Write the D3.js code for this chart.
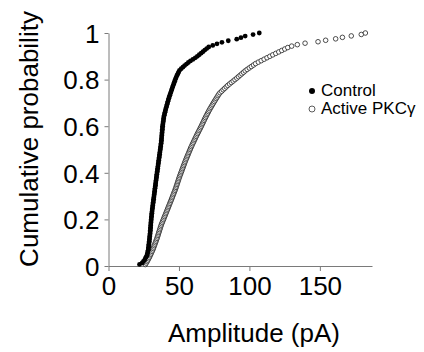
<!DOCTYPE html>
<html>
<head>
<meta charset="utf-8">
<script src="https://cdn.jsdelivr.net/npm/d3@7"></script>
<style>
  body { margin: 0; background: #fff; }
  svg { display: block; }
  text { font-family: "Liberation Sans", Arial, Helvetica, sans-serif; fill: #000; }
</style>
</head>
<body>
<div id="chart"></div>
<script>
// series labels and ticks
const seriesNames = ['Control', 'Active PKC\u03b3'];
const xTicks = [0, 50, 100, 150];
const yTicks = [0, 0.2, 0.4, 0.6, 0.8, 1];

// sorted event amplitudes (pA)
const controlAmps = [
  22.0, 23.9, 24.8, 25.7, 26.2, 26.85, 27.36, 27.6, 27.84, 28.08,
  28.27, 28.4, 28.53, 28.67, 28.8, 28.92, 29.03, 29.15, 29.27, 29.38,
  29.5, 29.59, 29.68, 29.77, 29.86, 29.95, 30.03, 30.12, 30.21, 30.3,
  30.42, 30.53, 30.65, 30.77, 30.88, 31.0, 31.14, 31.29, 31.43, 31.58,
  31.72, 31.87, 32.01, 32.16, 32.3, 32.44, 32.58, 32.73, 32.87, 33.01,
  33.15, 33.29, 33.43, 33.58, 33.72, 33.86, 34.0, 34.15, 34.3, 34.46,
  34.61, 34.76, 34.91, 35.07, 35.22, 35.37, 35.52, 35.68, 35.83, 35.98,
  36.13, 36.28, 36.43, 36.58, 36.73, 36.88, 37.03, 37.18, 37.33, 37.45,
  37.54, 37.64, 37.73, 37.83, 37.92, 38.02, 38.11, 38.21, 38.3, 38.4,
  38.55, 38.7, 38.85, 39.0, 39.15, 39.3, 39.57, 39.83, 40.1, 40.37,
  40.65, 40.96, 41.27, 41.57, 41.88, 42.19, 42.5, 42.8, 43.17, 43.55,
  43.92, 44.29, 44.67, 45.04, 45.41, 45.8, 46.2, 46.6, 47.0, 47.4,
  47.8, 48.27, 48.8, 49.33, 49.87, 50.4, 51.6, 52.8, 54.0, 55.34,
  56.67, 58.17, 59.87, 61.57, 63.03, 64.4, 65.76, 67.06, 68.35, 69.71,
  71.14, 74.0, 77.0, 80.5, 85.0, 91.0, 94.0, 97.0, 102.6, 107.0
];
const pkcAmps = [
  26.1, 26.75, 27.4, 27.9, 28.46, 28.99, 29.48, 29.96, 30.43, 30.91,
  31.38, 31.76, 32.14, 32.52, 32.91, 33.28, 33.66, 34.04, 34.42, 34.76,
  35.08, 35.41, 35.73, 36.05, 36.37, 36.7, 37.02, 37.35, 37.75, 38.17,
  38.58, 39.0, 39.42, 39.83, 40.25, 40.67, 41.08, 41.5, 41.91, 42.32,
  42.73, 43.15, 43.56, 43.97, 44.39, 44.79, 45.19, 45.58, 45.98, 46.38,
  46.78, 47.18, 47.57, 47.91, 48.26, 48.6, 48.94, 49.28, 49.62, 49.96,
  50.31, 50.68, 51.06, 51.44, 51.83, 52.21, 52.59, 52.97, 53.35, 53.74,
  54.12, 54.5, 54.93, 55.35, 55.78, 56.21, 56.63, 57.06, 57.49, 57.92,
  58.34, 58.8, 59.29, 59.77, 60.26, 60.75, 61.23, 61.72, 62.21, 62.71,
  63.24, 63.76, 64.29, 64.82, 65.35, 65.86, 66.35, 66.84, 67.33, 67.82,
  68.31, 68.8, 69.33, 69.87, 70.41, 70.95, 71.49, 72.08, 72.69, 73.29,
  73.9, 74.5, 75.14, 75.78, 76.42, 77.06, 77.7, 78.34, 79.18, 80.28,
  81.37, 82.46, 83.56, 84.65, 85.88, 87.17, 88.47, 89.76, 91.05, 92.24,
  93.44, 94.63, 95.83, 97.02, 98.4, 99.9, 101.4, 102.9, 104.4, 106.34,
  108.39, 110.44, 112.49, 114.53, 116.59, 118.71, 120.84, 122.96, 125.09, 127.21,
  130.0, 134.0, 139.5, 148.7, 154.1, 161.2, 166.0, 172.3, 179.4, 182.3
];

const width = 424, height = 352;
const axisColor = '#7a7a7a';

const svg = d3.select('#chart').append('svg')
  .attr('width', width)
  .attr('height', height);

const x = d3.scaleLinear().domain([0, 187]).range([108.5, 372]);
const y = d3.scaleLinear().domain([0, 1]).range([266, 33]);

// cumulative probability from rank
function cdf(amps) {
  const n = amps.length;
  return amps.map((a, i) => ({amp: a, p: (i + 1) / n}));
}

// axes
const xAxis = svg.append('g')
  .attr('transform', 'translate(0,' + y(0) + ')')
  .call(d3.axisBottom(x).tickValues(xTicks).tickSize(5).tickPadding(5).tickSizeOuter(0));

const yAxis = svg.append('g')
  .attr('transform', 'translate(' + x(0) + ',0)')
  .call(d3.axisLeft(y).tickValues(yTicks).tickSize(4).tickPadding(5).tickSizeOuter(0)
    .tickFormat(d3.format('')));

[xAxis, yAxis].forEach(g => {
  g.select('.domain').attr('stroke', axisColor).attr('stroke-width', 1);
  g.selectAll('.tick line').attr('stroke', axisColor);
  g.selectAll('.tick text')
    .attr('fill', '#000')
    .style('font-size', '26px')
    .style('font-family', '"Liberation Sans", Arial, sans-serif');
});
xAxis.selectAll('.tick text').attr('dy', '0.72em');
yAxis.selectAll('.tick text').attr('dy', '0.36em');

// axis titles
svg.append('text')
  .attr('x', 254)
  .attr('y', 342)
  .attr('text-anchor', 'middle')
  .style('font-size', '26px')
  .text('Amplitude (pA)');

svg.append('text')
  .attr('transform', 'translate(38,139) rotate(-90)')
  .attr('text-anchor', 'middle')
  .style('font-size', '26px')
  .text('Cumulative probability');

// markers
svg.append('g').selectAll('circle')
  .data(cdf(pkcAmps))
  .join('circle')
  .attr('cx', d => x(d.amp))
  .attr('cy', d => y(d.p))
  .attr('r', 2.3)
  .attr('fill', '#fff')
  .attr('stroke', '#222')
  .attr('stroke-width', 0.8);

svg.append('g').selectAll('circle')
  .data(cdf(controlAmps))
  .join('circle')
  .attr('cx', d => x(d.amp))
  .attr('cy', d => y(d.p))
  .attr('r', 2.4)
  .attr('fill', '#000');

// legend
const legend = svg.append('g').attr('transform', 'translate(312,91)');
seriesNames.forEach((name, i) => {
  const row = legend.append('g').attr('transform', 'translate(0,' + (i * 18) + ')');
  row.append('circle')
    .attr('r', 3)
    .attr('fill', i === 0 ? '#000' : '#fff')
    .attr('stroke', i === 0 ? 'none' : '#333')
    .attr('stroke-width', 0.8);
  row.append('text')
    .attr('x', 9)
    .attr('y', 4.5)
    .style('font-size', '17px')
    .text(name);
});
</script>
</body>
</html>
